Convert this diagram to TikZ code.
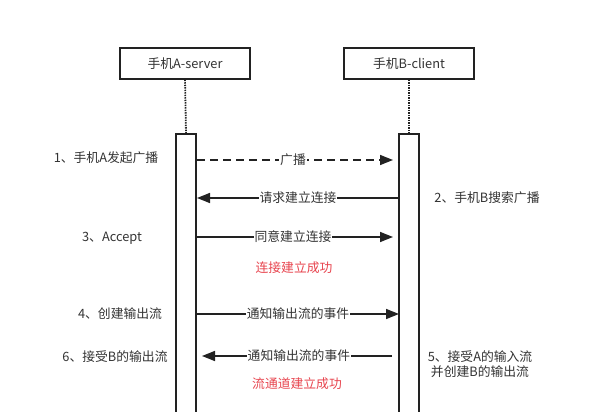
\documentclass[tikz,border=0pt]{standalone}
\usepackage{fontspec}
\setmainfont{Noto Sans CJK SC}
\usetikzlibrary{arrows.meta}
\definecolor{ink}{HTML}{222222}
\definecolor{txt}{HTML}{333333}
\definecolor{okred}{HTML}{E8454F}
\begin{document}
\begin{tikzpicture}[x=1pt,y=-1pt,
  font=\fontsize{12.8}{15}\selectfont,
  actor/.style={draw=ink,line width=1.5pt,minimum width=130pt,minimum height=31pt,inner sep=0pt,text=txt},
  bar/.style={draw=ink,line width=1.5pt,fill=white},
  msg/.style={draw=ink,line width=1.5pt,-{Triangle[length=13pt,width=10pt]}},
  lbl/.style={fill=white,inner sep=1pt,text=txt},
  note/.style={text=txt,inner sep=0pt,align=center},
  ok/.style={text=okred,inner sep=0pt}]
\useasboundingbox (0,0) rectangle (611,412);
\fill[white] (0,0) rectangle (611,412);
% actors
\node[actor] (A) at (185,63.5) {手机A-server};
\node[actor] (B) at (409,63.5) {手机B-client};
% lifeline bars
\draw[bar] (176,134) rectangle (196,413);
\draw[bar] (399,134) rectangle (419,413);
\coordinate (Abar) at (186,134);
\coordinate (Bbar) at (409,134);
\draw[ink,line width=1.8pt,dash pattern=on 1.3pt off 1.2pt] (A.south) -- (Abar);
\draw[ink,line width=1.8pt,dash pattern=on 1.3pt off 1.2pt] (B.south) -- (Bbar);
% message endpoints
\coordinate (a1) at (197,160); \coordinate (b1) at (393,160);
\coordinate (a2) at (197,198); \coordinate (b2) at (399,198);
\coordinate (a3) at (197,237); \coordinate (b3) at (393,237);
\coordinate (a4) at (197,314); \coordinate (b4) at (399,314);
\coordinate (a5) at (202,356); \coordinate (b5) at (392,356);
% messages
\draw[msg,dashed,dash pattern=on 8pt off 5pt] (a1) -- (b1) node[lbl,pos=0.49] (m1) {广播};
\draw[msg] (b2) -- (a2) node[lbl,pos=0.5] (m2) {请求建立连接};
\draw[msg] (a3) -- (b3) node[lbl,pos=0.49] (m3) {同意建立连接};
\draw[msg] (a4) -- (b4) node[lbl,pos=0.5] (m4) {通知输出流的事件};
\draw[msg] (b5) -- (a5) node[lbl,pos=0.49] (m5) {通知输出流的事件};
% result notes
\node[ok] (r1) at (294,268) {连接建立成功};
\node[ok] (r2) at (297,384) {流通道建立成功};
% side notes
\node[note] (n1) at (106,158) {1、手机A发起广播};
\node[note] (n2) at (487,198) {2、手机B搜索广播};
\node[note] (n3) at (112,238) {3、Accept};
\node[note] (n4) at (120,314) {4、创建输出流};
\node[note] (n5) at (480,364) {5、接受A的输入流\\并创建B的输出流};
\node[note] (n6) at (115,357) {6、接受B的输出流};
\end{tikzpicture}
\end{document}
